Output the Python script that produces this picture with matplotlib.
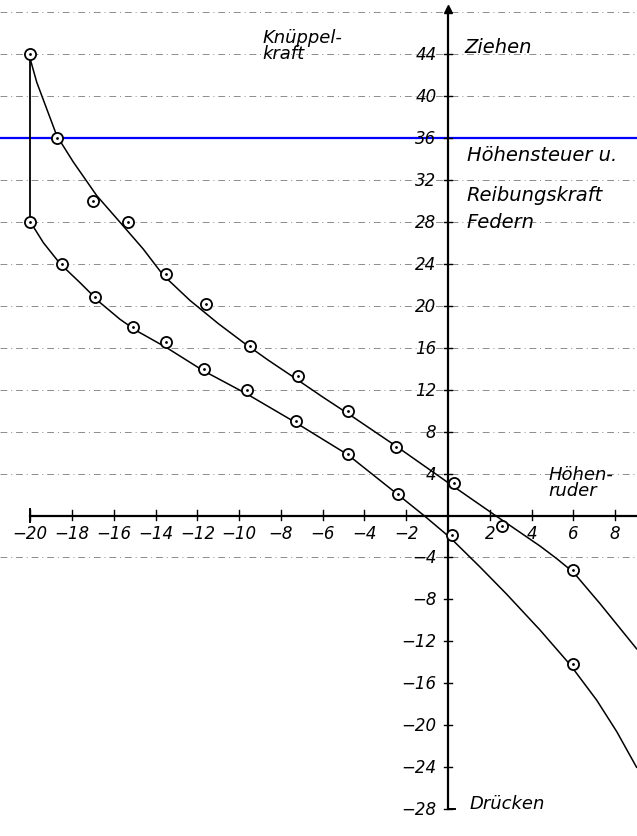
import matplotlib.pyplot as plt

# Messpunkte: Hoehenruder-Ausschlag (Grad) und Knueppelkraft
ziehen_x = [-20, -18.7, -17.0, -15.3, -13.5, -11.6, -9.5, -7.2, -4.8, -2.5, 0.3, 2.6, 6.0]
ziehen_y = [44, 36, 30, 28, 23, 20.2, 16.2, 13.3, 10, 6.5, 3.1, -1.0, -5.2]
druecken_x = [-20, -18.5, -16.9, -15.1, -13.5, -11.7, -9.6, -7.3, -4.8, -2.4, 0.2, 6.0]
druecken_y = [28, 24, 20.8, 18, 16.5, 14, 12, 9, 5.9, 2.1, -1.9, -14.2]

# von Hand gezogene Ausgleichskurven
kurve1_x = [-20, -19.69, -19.21, -18.73, -17.94, -16.82, -15.70, -14.59, -13.63, -12.35, -11.0,
            -9.8, -8.6, -7.4, -6.0, -4.7, -2.4, 0.1, 2.17, 4.4, 5.2, 6.0, 7.28, 9.03]
kurve1_y = [43.5, 41.3, 38.75, 36.2, 33.7, 30.5, 27.95, 25.4, 22.9, 20.5, 18.3,
            16.5, 14.8, 13.2, 11.3, 9.6, 6.5, 3.0, 0.14, -2.9, -4.1, -5.4, -8.4, -12.7]
kurve2_x = [-20, -19.37, -18.57, -17.62, -16.66, -15.7, -14.9, -13.47, -11.71, -9.64, -7.41,
            -4.8, -2.4, -1.15, 0.1, 1.53, 2.81, 4.4, 5.84, 7.12, 8.08, 9.03]
kurve2_y = [28, 26.0, 24.0, 22.2, 20.3, 18.7, 17.6, 16.0, 13.8, 11.6, 9.0,
            5.8, 2.0, 0.0, -2.1, -4.9, -7.5, -10.9, -14.2, -17.6, -20.6, -24.0]

x_ticks = [-20, -18, -16, -14, -12, -10, -8, -6, -4, -2, 2, 4, 6, 8]
y_ticks = [44, 40, 36, 32, 28, 24, 20, 16, 12, 8, 4, -4, -8, -12, -16, -20, -24, -28]
grid_y = [48, 44, 40, 32, 28, 24, 20, 16, 12, 8, 4, -4]

fig = plt.figure(figsize=(6.37, 8.37), dpi=100)
ax = fig.add_axes([0, 0, 1, 1])
ax.set_xlim(-21.45, 9.05)
ax.set_ylim(-30.55, 49.24)
ax.axis('off')

hand = dict(fontstyle='italic', family='DejaVu Sans', color='black')

# Hilfslinien (Papier)
for g in grid_y:
    ax.axhline(g, color='0.55', lw=0.7, ls=(0, (7, 4, 1, 4)), zorder=1)
ax.axhline(36, color='#0000ff', lw=1.6, zorder=2)

# Achsen
ax.plot([-20, 9.05], [0, 0], color='black', lw=1.6, zorder=3)
ax.plot([0, 0], [-28, 48.3], color='black', lw=1.6, zorder=3)
ax.plot(0, 48.3, marker='^', color='black', ms=6, zorder=3)
ax.plot([-20, -20], [-0.6, 0.6], color='black', lw=1.4)
ax.plot([0, 0.35], [-28, -28], color='black', lw=1.4)
for t in x_ticks:
    ax.plot([t, t], [-0.4, 0.5], color='black', lw=1.0)
    ax.text(t, -0.8, str(t).replace('-', '\u2212'), ha='center', va='top', fontsize=12, **hand)
for t in y_ticks:
    ax.plot([-0.2, 0.2], [t, t], color='black', lw=1.0)
    ax.text(-0.55, t, str(t).replace('-', '\u2212'), ha='right', va='center', fontsize=12, **hand)

# Kurven
ax.plot([-20, -20], [kurve2_y[0], kurve1_y[0]], color='black', lw=1.3, zorder=4)
ax.plot(kurve1_x, kurve1_y, color='black', lw=1.1, zorder=4)
ax.plot(kurve2_x, kurve2_y, color='black', lw=1.1, zorder=4)
for xs, ys in [(ziehen_x, ziehen_y), (druecken_x, druecken_y)]:
    ax.plot(xs, ys, 'o', ms=8, mfc='white', mec='black', mew=1.3, zorder=5)
    ax.plot(xs, ys, '.', ms=2, color='black', zorder=6)

# Beschriftung
ax.text(-8.9, 46.5, 'Knüppel-\nkraft', ha='left', va='top', fontsize=13, linespacing=0.85, **hand)
ax.text(0.8, 44.7, 'Ziehen', ha='left', va='center', fontsize=14, **hand)
ax.text(0.9, 34.4, 'Höhensteuer u.', ha='left', va='center', fontsize=14, clip_on=True, **hand)
ax.text(0.9, 30.6, 'Reibungskraft', ha='left', va='center', fontsize=14, clip_on=True, **hand)
ax.text(0.9, 28.0, 'Federn', ha='left', va='center', fontsize=14, **hand)
ax.text(4.8, 4.8, 'Höhen-\nruder', ha='left', va='top', fontsize=13, linespacing=0.85, **hand)
ax.text(1.05, -27.4, 'Drücken', ha='left', va='center', fontsize=13, **hand)

plt.savefig('out.png', dpi=100)
